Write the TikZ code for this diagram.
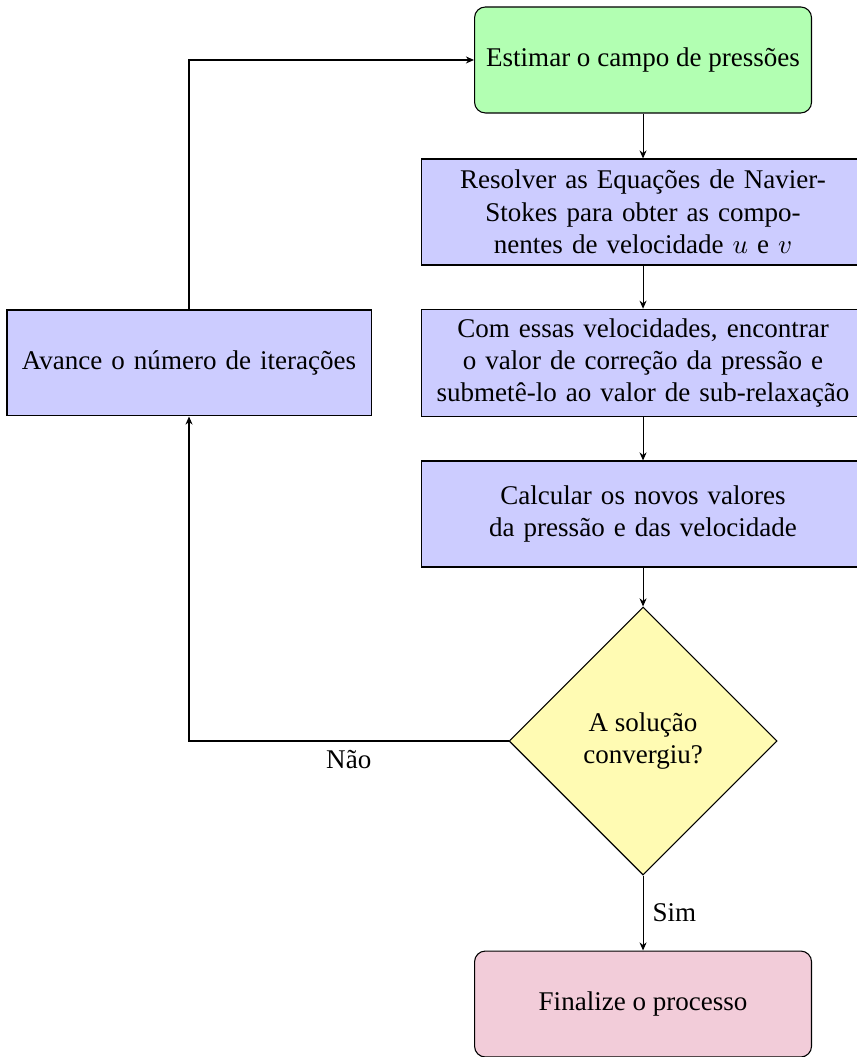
\documentclass[tikz,border=0pt]{standalone}
\usepackage{fontspec}
\setmainfont{Liberation Serif}
\usepackage{tikz}
\usetikzlibrary{arrows.meta,positioning,shapes.geometric}

\begin{document}
\begin{tikzpicture}[
  x=1cm,y=1cm,
  startbox/.style={draw, rounded corners, fill=green!30, align=center, minimum width=4.382cm, minimum height=1.378cm},
  endbox/.style={draw, rounded corners, fill=purple!20, align=center, minimum width=4.382cm, minimum height=1.378cm},
  procbox/.style={draw, fill=blue!20, align=center, text width=5.5cm, minimum width=5.761cm, minimum height=1.378cm},
  decbox/.style={draw, diamond, fill=yellow!30, align=center, minimum width=3.485cm, minimum height=3.485cm, inner sep=0pt, shape aspect=1},
  arr/.style={-{Stealth[length=3pt,width=2.6pt]}}
]
\useasboundingbox (-8.362,0.780) rectangle (2.770,-12.965);
\node[startbox] (estimar) at (0,0) {Estimar o campo de pressões};
\node[procbox] (resolver) at (0,-1.977) {Resolver as Equações de Navier-\\Stokes para obter as compo-\\nentes de velocidade $u$ e $v$};
\node[procbox] (correcao) at (0,-3.940) {Com essas velocidades, encontrar\\o valor de correção da pressão e\\submetê-lo ao valor de sub-relaxação};
\node[procbox] (calcular) at (0,-5.904) {Calcular os novos valores\\da pressão e das velocidade};
\node[decbox] (conv) at (0,-8.856) {A solução\\convergiu?};
\node[endbox] (final) at (0,-12.276) {Finalize o processo};
\node[procbox, text width=4.5cm, minimum width=4.733cm] (avance) at (-5.904,-3.940) {Avance o número de iterações};
\draw[arr] (estimar) -- (resolver); \draw[arr] (resolver) -- (correcao); \draw[arr] (correcao) -- (calcular); \draw[arr] (calcular) -- (conv);
\draw[arr] (conv) -- node[midway, right] {Sim} (final);
\draw[arr] (conv.west) -| node[pos=0.25, below] {Não} (avance.south);
\draw[arr] (avance.north) |- (estimar.west);
\end{tikzpicture}
\end{document}
